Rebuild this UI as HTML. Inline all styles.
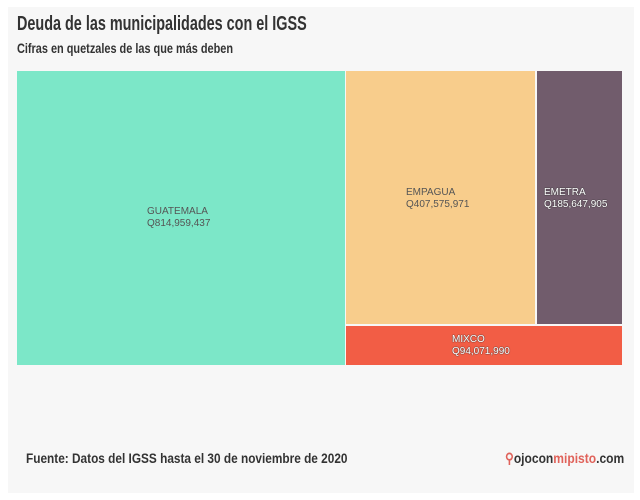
<!DOCTYPE html>
<html><head><meta charset="utf-8"><style>
body{margin:0;width:640px;height:500px;background:#fff;position:relative;overflow:hidden;font-family:"Liberation Sans",sans-serif}
.card{position:absolute;left:8px;top:7px;width:626px;height:486px;background:#f7f7f7}
.c{position:absolute;transform-origin:0 0;white-space:nowrap;color:#333;font-weight:bold}
.t{left:17px;top:13px;font-size:20px;transform:scaleX(0.72)}
.s{left:17px;top:40px;font-size:14px;transform:scaleX(0.78)}
.r{position:absolute}
.l{position:absolute;font-family:"Liberation Sans",sans-serif;font-size:10px;line-height:12px}
.w{color:#fff;text-shadow:0 0 1px #333,0 0 1px #333}
.f{left:26px;top:450px;font-size:14px;transform:scaleX(0.845)}
.logo{left:505px;top:450px;font-size:14px;transform:scaleX(0.86)}
</style></head><body>
<div class="card"></div>
<div class="c t">Deuda de las municipalidades con el IGSS</div>
<div class="c s">Cifras en quetzales de las que más deben</div>
<div class="r" style="left:17px;top:71px;width:328px;height:294px;background:#7ce7c8"></div>
<div class="r" style="left:346px;top:71px;width:189px;height:253px;background:#f8cd8c"></div>
<div class="r" style="left:537px;top:71px;width:85px;height:253px;background:#715c6c"></div>
<div class="r" style="left:346px;top:326px;width:276px;height:39px;background:#f25d45"></div>
<div class="l" style="left:147px;top:206px;color:#555">GUATEMALA<br>Q814,959,437</div>
<div class="l" style="left:406px;top:187px;color:#555">EMPAGUA<br>Q407,575,971</div>
<div class="l w" style="left:544px;top:187px">EMETRA<br>Q185,647,905</div>
<div class="l w" style="left:452px;top:334px">MIXCO<br>Q94,071,990</div>
<div class="c f">Fuente: Datos del IGSS hasta el 30 de noviembre de 2020</div>
<div class="c logo"><span style="color:#e0625a">&#9906;</span>ojocon<span style="color:#e0625a">mipisto</span>.com</div>
</body></html>
